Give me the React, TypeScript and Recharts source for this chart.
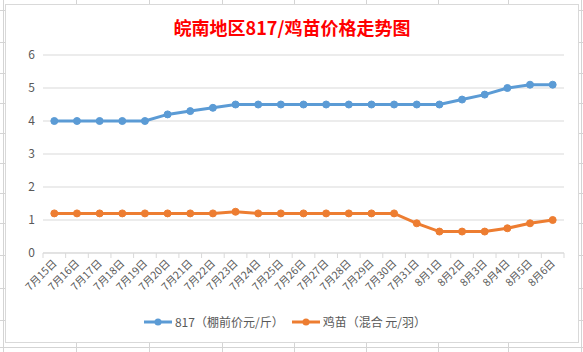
import { LineChart, Line, XAxis, YAxis, CartesianGrid, Legend } from "recharts";

const dates = [
  "7月15日", "7月16日", "7月17日", "7月18日", "7月19日", "7月20日", "7月21日", "7月22日",
  "7月23日", "7月24日", "7月25日", "7月26日", "7月27日", "7月28日", "7月29日", "7月30日",
  "7月31日", "8月1日", "8月2日", "8月3日", "8月4日", "8月5日", "8月6日",
];

const price817 = [4, 4, 4, 4, 4, 4.2, 4.3, 4.4, 4.5, 4.5, 4.5, 4.5, 4.5, 4.5, 4.5, 4.5, 4.5, 4.5, 4.65, 4.8, 5.0, 5.1, 5.1];
const chickPrice = [1.2, 1.2, 1.2, 1.2, 1.2, 1.2, 1.2, 1.2, 1.25, 1.2, 1.2, 1.2, 1.2, 1.2, 1.2, 1.2, 0.9, 0.65, 0.65, 0.65, 0.75, 0.9, 1.0];

const yTicks = [0, 1, 2, 3, 4, 5, 6];

const data = dates.map((d, i) => ({ date: d, p817: price817[i], chick: chickPrice[i] }));

const FONT = '"Noto Sans CJK SC", "Noto Sans", sans-serif';
const GRID = "#d9d9d9";
const TEXT = "#595959";
const BLUE = "#5b9bd5";
const ORANGE = "#ed7d31";

const CHART_W = 572;
const CHART_H = 337;
const PLOT_W = 521;
const BAND = PLOT_W / dates.length;

// excel sheet cell lines behind the chart
const sheetCols = [3, 76, 149, 222, 294, 366, 438, 508, 581];
const sheetRows = [10, 42, 73, 103, 133, 163, 193, 223, 255, 288, 320, 347];

const DateTick = (props: any) => {
  const { x, y, payload, index } = props;
  const half = BAND / 2;
  const tx = x + 3;
  const ty = y + 11;
  return (
    <g>
      <line x1={x - half} y1={y} x2={x - half} y2={y + 5} stroke={GRID} />
      {index === dates.length - 1 && <line x1={x + half} y1={y} x2={x + half} y2={y + 5} stroke={GRID} />}
      <text
        x={tx}
        y={ty}
        textAnchor="end"
        transform={`rotate(-45 ${tx} ${ty})`}
        fontSize={10.5}
        fill={TEXT}
        fontFamily={FONT}
      >
        {payload.value}
      </text>
    </g>
  );
};

const LegendContent = (props: any) => {
  const { payload = [] } = props;
  return (
    <div style={{ display: "flex", justifyContent: "center", alignItems: "center", fontSize: 12, color: TEXT, fontFamily: FONT }}>
      {payload.map((p: any) => (
        <span key={p.value} style={{ display: "flex", alignItems: "center", margin: "0 4px" }}>
          <svg width={28} height={10} style={{ marginRight: 3 }}>
            <line x1={0} y1={5} x2={28} y2={5} stroke={p.color} strokeWidth={3} />
            <circle cx={14} cy={5} r={3.5} fill={p.color} />
          </svg>
          <span>{p.value}</span>
        </span>
      ))}
    </div>
  );
};

const App = () => {
  return (
    <div style={{ position: "absolute", left: 0, top: 0, width: 583, height: 352, background: "#fff", overflow: "hidden" }}>
      {sheetCols.map((c) => (
        <div key={"c" + c} style={{ position: "absolute", left: c, top: 0, width: 1, height: 352, background: "#d4d4d4" }} />
      ))}
      {sheetRows.map((r) => (
        <div key={"r" + r} style={{ position: "absolute", left: 0, top: r, width: 583, height: 1, background: "#d4d4d4" }} />
      ))}
      <div
        style={{
          position: "absolute",
          left: 5,
          top: 4,
          width: CHART_W + 2,
          height: CHART_H + 2,
          boxSizing: "border-box",
          border: `1px solid ${GRID}`,
          background: "#fff",
        }}
      >
        <div
          style={{
            position: "absolute",
            top: 11,
            left: 0,
            width: "100%",
            textAlign: "center",
            fontFamily: FONT,
            fontSize: 18,
            fontWeight: "bold",
            lineHeight: "22px",
            color: "#ff0000",
          }}
        >
          皖南地区817/鸡苗价格走势图
        </div>
        <LineChart width={CHART_W} height={CHART_H} data={data} margin={{ top: 50, right: 14, bottom: 5, left: 0 }}>
          <CartesianGrid vertical={false} stroke={GRID} />
          <XAxis
            dataKey="date"
            interval={0}
            height={60}
            padding={{ left: BAND / 2, right: BAND / 2 }}
            axisLine={{ stroke: GRID }}
            tickLine={false}
            tickSize={0}
            tickMargin={0}
            tick={<DateTick />}
          />
          <YAxis
            width={37}
            domain={[0, 6]}
            ticks={yTicks}
            axisLine={false}
            tickLine={false}
            tickSize={0}
            tickMargin={8}
            tick={{ fontSize: 12, fill: TEXT, fontFamily: FONT }}
          />
          <Legend verticalAlign="bottom" height={24} content={<LegendContent />} />
          <Line
            type="linear"
            dataKey="p817"
            name="817（棚前价元/斤）"
            stroke={BLUE}
            strokeWidth={3}
            dot={{ r: 3.5, fill: BLUE, stroke: BLUE, strokeWidth: 1 }}
            isAnimationActive={false}
          />
          <Line
            type="linear"
            dataKey="chick"
            name="鸡苗（混合 元/羽）"
            stroke={ORANGE}
            strokeWidth={3}
            dot={{ r: 3.5, fill: ORANGE, stroke: ORANGE, strokeWidth: 1 }}
            isAnimationActive={false}
          />
        </LineChart>
      </div>
    </div>
  );
};

export default App;
